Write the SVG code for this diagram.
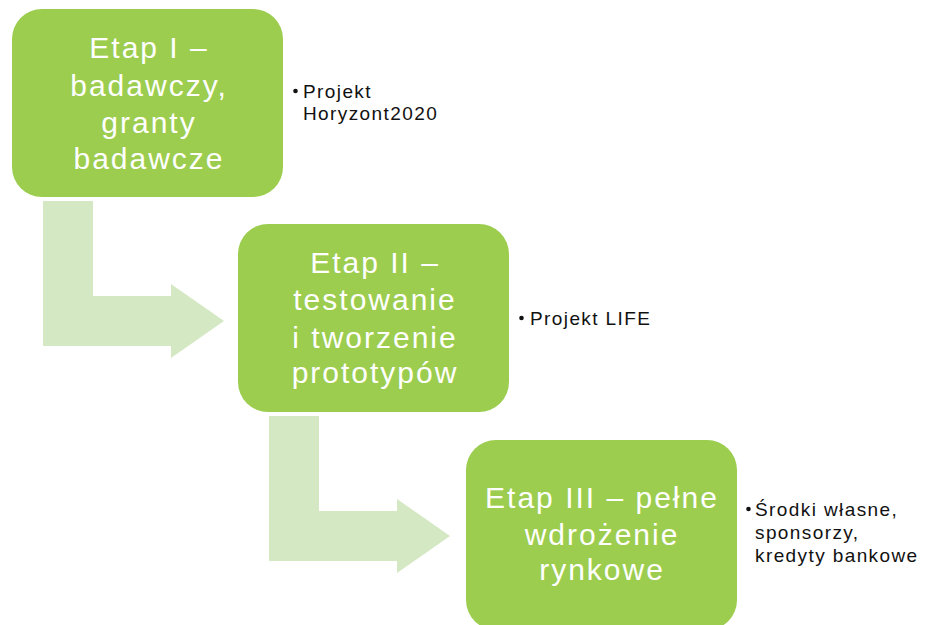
<svg xmlns="http://www.w3.org/2000/svg" width="930" height="625" viewBox="0 0 930 625">
<style>
.box{fill:#9ccd4e;}
.arr{fill:#d5e8c4;}
.t{font-family:"Liberation Sans",Arial,sans-serif;font-size:30px;fill:#ffffff;text-anchor:middle;letter-spacing:2px;}
.s{font-family:"Liberation Sans",Arial,sans-serif;font-size:19px;fill:#111111;letter-spacing:1.4px;}
</style>
<rect width="930" height="625" fill="#ffffff"/>
<g id="connectors">
<path class="arr" d="M43,201 H93 V296 H171 V284 L224,321 L171,358 V346 H43 Z"/>
<path class="arr" d="M269,416 H319 V511 H397 V499 L450,536 L397,573 V561 H269 Z"/>
</g>
<g id="node1">
<rect class="box" x="12" y="9" width="271" height="188" rx="30"/>
<text class="t" x="149" y="58"><tspan x="149">Etap I –</tspan><tspan x="149" y="96">badawczy,</tspan><tspan x="149" y="133">granty</tspan><tspan x="149" y="169">badawcze</tspan></text>
</g>
<g id="note1">
<circle cx="295.5" cy="91" r="2.3" fill="#111"/>
<text class="s" x="303" y="98"><tspan x="303">Projekt</tspan><tspan x="303" y="120">Horyzont2020</tspan></text>
</g>
<g id="node2">
<rect class="box" x="238" y="224" width="271" height="188" rx="30"/>
<text class="t" x="375" y="273"><tspan x="375">Etap II –</tspan><tspan x="375" y="310">testowanie</tspan><tspan x="375" y="348">i tworzenie</tspan><tspan x="375" y="383">prototypów</tspan></text>
</g>
<g id="note2">
<circle cx="521.5" cy="318" r="2.3" fill="#111"/>
<text class="s" x="530" y="325">Projekt LIFE</text>
</g>
<g id="node3">
<rect class="box" x="466" y="440" width="271" height="190" rx="30"/>
<text class="t" x="602" y="508"><tspan x="602">Etap III – pełne</tspan><tspan x="602" y="545">wdrożenie</tspan><tspan x="602" y="580">rynkowe</tspan></text>
</g>
<g id="note3">
<circle cx="748.5" cy="509" r="2.3" fill="#111"/>
<text class="s" x="755" y="516"><tspan x="755">Środki własne,</tspan><tspan x="755" y="539">sponsorzy,</tspan><tspan x="755" y="562">kredyty bankowe</tspan></text>
</g>
</svg>
